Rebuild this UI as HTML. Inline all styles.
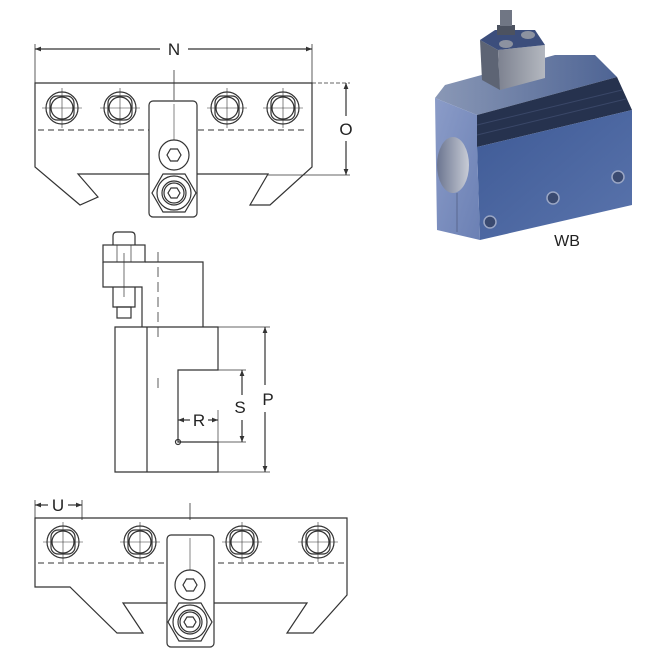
<!DOCTYPE html>
<html><head><meta charset="utf-8"><style>
html,body{margin:0;padding:0;background:#fff;}
svg{display:block;}
text{font-family:"Liberation Sans",sans-serif;fill:#222;}
</style></head><body>
<svg width="660" height="660" viewBox="0 0 660 660" xmlns="http://www.w3.org/2000/svg">
<defs>
<marker id="ar" viewBox="0 0 10 10" refX="10" refY="5" markerWidth="6" markerHeight="5" orient="auto-start-reverse"><path d="M0,1 L10,5 L0,9 z" fill="#333"/></marker>
<linearGradient id="fr" x1="0" y1="0" x2="1" y2="1"><stop offset="0" stop-color="#3e5a96"/><stop offset="1" stop-color="#5a74ac"/></linearGradient>
<linearGradient id="tp" x1="0" y1="0" x2="1" y2="0"><stop offset="0" stop-color="#8a98b6"/><stop offset="1" stop-color="#4e6494"/></linearGradient>
<linearGradient id="en" x1="0" y1="0" x2="1" y2="1"><stop offset="0" stop-color="#8b9cc8"/><stop offset="1" stop-color="#6b80b4"/></linearGradient>
<linearGradient id="hl" x1="0" y1="0" x2="1" y2="0"><stop offset="0" stop-color="#6b7590"/><stop offset="1" stop-color="#c8ccd6"/></linearGradient>
<linearGradient id="bk" x1="0" y1="0" x2="1" y2="0"><stop offset="0" stop-color="#7d8290"/><stop offset="1" stop-color="#b4b8c0"/></linearGradient>
</defs>

<g stroke="#333" stroke-width="1.2" fill="none">
<!-- ===== TOP VIEW ===== -->
<line x1="35" y1="49" x2="160" y2="49" marker-start="url(#ar)"/>
<line x1="188" y1="49" x2="312" y2="49" marker-end="url(#ar)"/>
<line x1="35" y1="44" x2="35" y2="83" stroke-width="0.8"/>
<line x1="312" y1="44" x2="312" y2="83" stroke-width="0.8"/>
<path d="M35,83 L312,83 L312,167 L270,205 L250,205 L268,174 L78,174 L98,197 L80,205 L35,167 Z"/>
<line x1="38" y1="130" x2="308" y2="130" stroke-dasharray="6,4" stroke-width="1"/>
<line x1="174" y1="70" x2="174" y2="100" stroke-width="0.8"/>
<g>
<circle cx="62" cy="108" r="16"/><rect x="50" y="96" width="24" height="24" rx="7"/><circle cx="62" cy="108" r="11"/>
<circle cx="120" cy="108" r="16"/><rect x="108" y="96" width="24" height="24" rx="7"/><circle cx="120" cy="108" r="11"/>
<circle cx="227" cy="108" r="16"/><rect x="215" y="96" width="24" height="24" rx="7"/><circle cx="227" cy="108" r="11"/>
<circle cx="283" cy="108" r="16"/><rect x="271" y="96" width="24" height="24" rx="7"/><circle cx="283" cy="108" r="11"/>
</g>
<g stroke-width="0.6">
<line x1="42" y1="108" x2="82" y2="108"/><line x1="62" y1="88" x2="62" y2="128"/>
<line x1="100" y1="108" x2="140" y2="108"/><line x1="120" y1="88" x2="120" y2="128"/>
<line x1="207" y1="108" x2="247" y2="108"/><line x1="227" y1="88" x2="227" y2="128"/>
<line x1="263" y1="108" x2="303" y2="108"/><line x1="283" y1="88" x2="283" y2="128"/>
</g>
<rect x="149" y="101" width="48" height="116" rx="4" fill="#fff"/>
<line x1="174" y1="104" x2="174" y2="140" stroke-width="0.6"/>
<circle cx="174" cy="155" r="15"/>
<polygon points="181,155 177.5,161 170.5,161 167,155 170.5,149 177.5,149"/>
<polygon points="196,193 185,212 163,212 152,193 163,174 185,174"/>
<circle cx="174" cy="193" r="17"/><circle cx="174" cy="193" r="12"/><circle cx="174" cy="193" r="10"/>
<polygon points="180,193 177,198 171,198 168,193 171,188 177,188"/>
<!-- O dim -->
<line x1="312" y1="83" x2="350" y2="83" stroke-width="0.7" stroke-dasharray="4,2"/>
<line x1="268" y1="175" x2="350" y2="175" stroke-width="0.7"/>
<line x1="346" y1="83" x2="346" y2="116" marker-start="url(#ar)"/>
<line x1="346" y1="141" x2="346" y2="175" marker-end="url(#ar)"/>

<!-- ===== SIDE VIEW ===== -->
<path d="M113,245 L113,236 Q113,232 117,232 L131,232 Q135,232 135,236 L135,245"/>
<rect x="103" y="245" width="42" height="17"/>
<line x1="117" y1="245" x2="117" y2="262" stroke-width="0.7"/><line x1="131" y1="245" x2="131" y2="262" stroke-width="0.7"/>
<path d="M103,262 L103,287 L142,287 L142,327"/>
<path d="M145,262 L203,262 L203,327"/>
<path d="M113,287 L113,307 L135,307 L135,287"/>
<rect x="117" y="307" width="14" height="11"/>
<line x1="124" y1="253" x2="124" y2="297" stroke-width="0.7"/>
<line x1="158" y1="252" x2="158" y2="342" stroke-dasharray="10,5" stroke-width="0.8"/>
<line x1="158" y1="378" x2="158" y2="388" stroke-width="0.8"/>
<path d="M115,327 L218,327 L218,370 L178,370 L178,442 L218,442 L218,472 L115,472 Z"/>
<line x1="147" y1="327" x2="147" y2="472"/>
<circle cx="178" cy="442" r="2.5"/>
<!-- P -->
<line x1="218" y1="327" x2="270" y2="327" stroke-width="0.7"/>
<line x1="218" y1="472" x2="270" y2="472" stroke-width="0.7"/>
<line x1="265" y1="327" x2="265" y2="385" marker-start="url(#ar)"/>
<line x1="265" y1="412" x2="265" y2="472" marker-end="url(#ar)"/>
<!-- S -->
<line x1="218" y1="370" x2="246" y2="370" stroke-width="0.7"/>
<line x1="218" y1="442" x2="246" y2="442" stroke-width="0.7"/>
<line x1="242" y1="370" x2="242" y2="395" marker-start="url(#ar)"/>
<line x1="242" y1="420" x2="242" y2="442" marker-end="url(#ar)"/>
<!-- R -->
<line x1="218" y1="410" x2="218" y2="442" stroke-width="0.7"/>
<line x1="178" y1="420" x2="190" y2="420" marker-start="url(#ar)"/>
<line x1="208" y1="420" x2="218" y2="420" marker-end="url(#ar)"/>

<!-- ===== BOTTOM VIEW ===== -->
<line x1="35" y1="500" x2="35" y2="520" stroke-width="0.8"/>
<line x1="82" y1="500" x2="82" y2="520" stroke-width="0.8"/>
<line x1="35" y1="505" x2="48" y2="505" marker-start="url(#ar)"/>
<line x1="68" y1="505" x2="82" y2="505" marker-end="url(#ar)"/>
<line x1="190" y1="503" x2="190" y2="520" stroke-width="0.8"/>
<path d="M35,518 L347,518 L347,595 L313,633 L287,633 L307,603 L123,603 L143,633 L117,633 L70,587 L35,587 Z"/>
<line x1="38" y1="563" x2="345" y2="563" stroke-dasharray="6,4" stroke-width="1"/>
<g>
<circle cx="63" cy="542" r="16"/><rect x="51" y="530" width="24" height="24" rx="7"/><circle cx="63" cy="542" r="11"/>
<circle cx="140" cy="542" r="16"/><rect x="128" y="530" width="24" height="24" rx="7"/><circle cx="140" cy="542" r="11"/>
<circle cx="242" cy="542" r="16"/><rect x="230" y="530" width="24" height="24" rx="7"/><circle cx="242" cy="542" r="11"/>
<circle cx="318" cy="542" r="16"/><rect x="306" y="530" width="24" height="24" rx="7"/><circle cx="318" cy="542" r="11"/>
</g>
<g stroke-width="0.6">
<line x1="43" y1="542" x2="83" y2="542"/><line x1="63" y1="522" x2="63" y2="562"/>
<line x1="120" y1="542" x2="160" y2="542"/><line x1="140" y1="522" x2="140" y2="562"/>
<line x1="222" y1="542" x2="262" y2="542"/><line x1="242" y1="522" x2="242" y2="562"/>
<line x1="298" y1="542" x2="338" y2="542"/><line x1="318" y1="522" x2="318" y2="562"/>
</g>
<rect x="167" y="535" width="47" height="112" rx="4" fill="#fff"/>
<line x1="190" y1="538" x2="190" y2="570" stroke-width="0.6"/>
<circle cx="190" cy="585" r="15"/>
<polygon points="197,585 193.5,591 186.5,591 183,585 186.5,579 193.5,579"/>
<polygon points="212,622 201,641 179,641 168,622 179,603 201,603"/>
<circle cx="190" cy="622" r="17"/><circle cx="190" cy="622" r="12"/><circle cx="190" cy="622" r="10"/>
<polygon points="196,622 193,627 187,627 184,622 187,617 193,617"/>
</g>

<g font-size="17">
<text x="174" y="55" text-anchor="middle">N</text>
<text x="346" y="135" text-anchor="middle">O</text>
<text x="268" y="405" text-anchor="middle">P</text>
<text x="240" y="413" text-anchor="middle">S</text>
<text x="199" y="426" text-anchor="middle">R</text>
<text x="58" y="511" text-anchor="middle">U</text>
</g>

<!-- ===== PHOTO ===== -->
<polygon points="435,98 445,85 555,55 595,55 617,77 477,115" fill="url(#tp)"/>
<polygon points="477,115 617,77 632,110 477,147" fill="#26324e"/>
<line x1="477" y1="125" x2="622" y2="90" stroke="#3a4768" stroke-width="1"/>
<line x1="477" y1="135" x2="626" y2="99" stroke="#3a4768" stroke-width="1"/>
<polygon points="477,147 632,110 632,205 480,240" fill="url(#fr)"/>
<polygon points="435,98 477,115 477,147 480,240 437,230" fill="url(#en)"/>
<ellipse cx="453" cy="165" rx="16" ry="28" fill="url(#hl)"/>
<line x1="457" y1="193" x2="457" y2="232" stroke="#5a6890" stroke-width="1"/>
<polygon points="480,40 498,50 500,90 482,80" fill="#5d6474"/>
<polygon points="498,50 545,45 545,78 500,90" fill="url(#bk)"/>
<polygon points="480,40 495,30 535,30 545,45 498,50" fill="#3c4e7c"/>
<ellipse cx="506" cy="44" rx="7" ry="4" fill="#8c92a0"/>
<ellipse cx="528" cy="35" rx="7" ry="4" fill="#8c92a0"/>
<rect x="497" y="25" width="18" height="10" fill="#4c5260"/>
<rect x="500" y="10" width="12" height="16" fill="#707684"/>
<circle cx="490" cy="222" r="6" fill="#3a4a70" stroke="#9aa6c4" stroke-width="1.5"/>
<circle cx="553" cy="198" r="6" fill="#3a4a70" stroke="#9aa6c4" stroke-width="1.5"/>
<circle cx="618" cy="177" r="6" fill="#3a4a70" stroke="#9aa6c4" stroke-width="1.5"/>
<text x="567" y="246" font-size="16" text-anchor="middle">WB</text>
</svg>
</body></html>
